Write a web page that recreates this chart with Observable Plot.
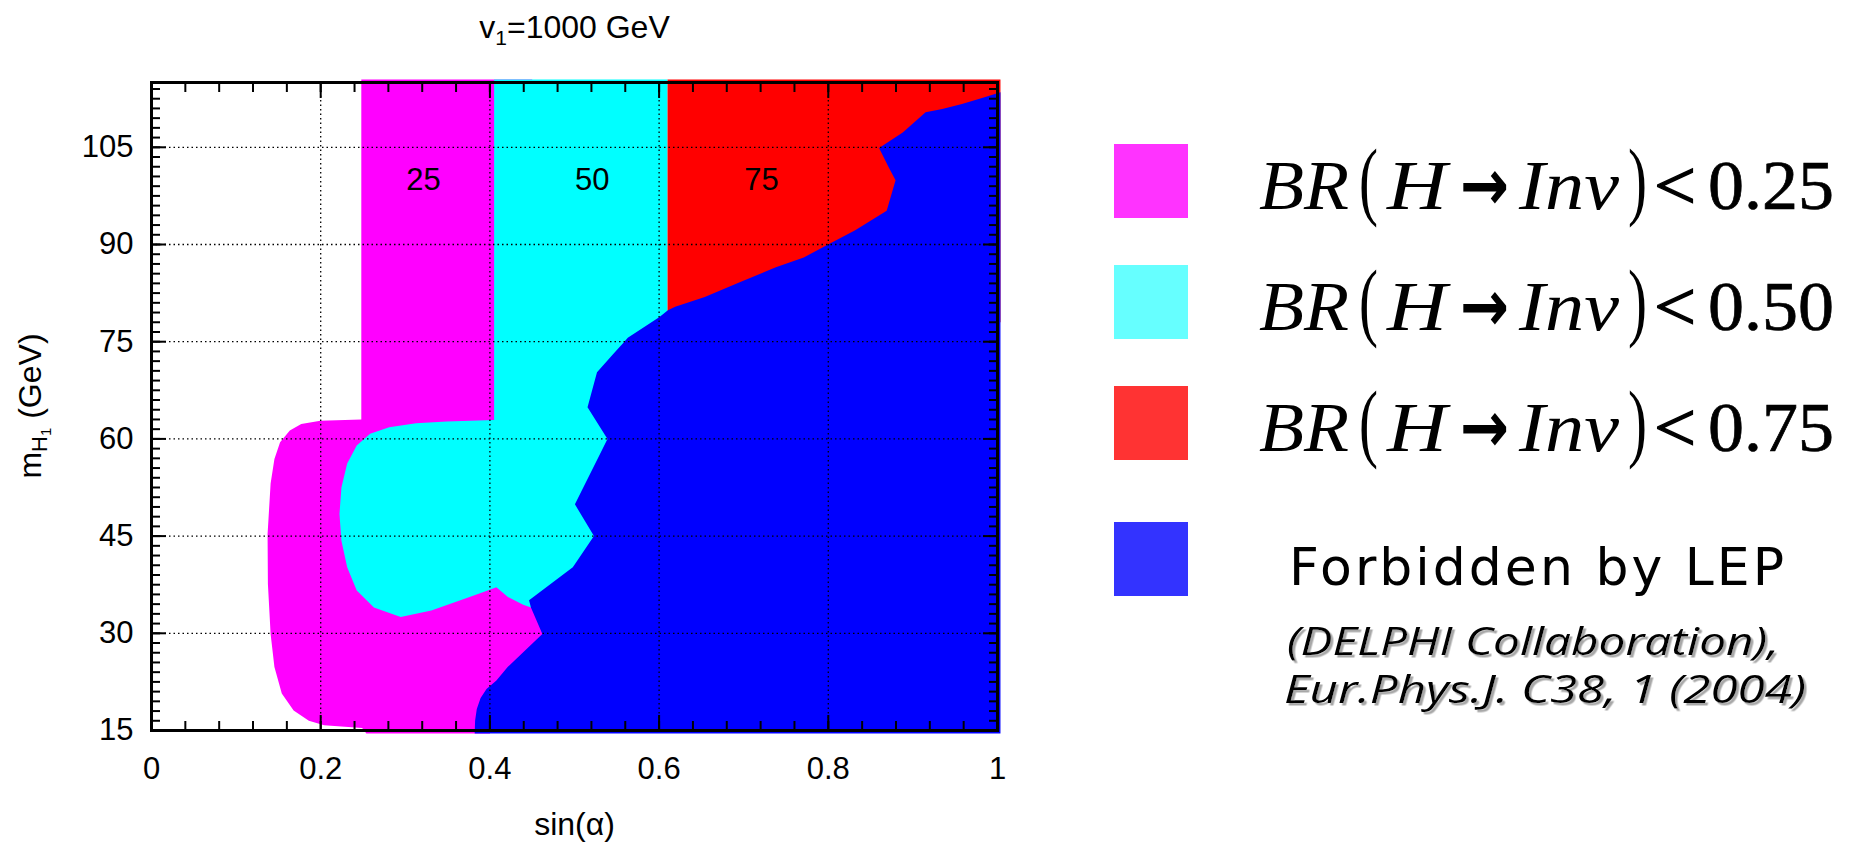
<!DOCTYPE html>
<html>
<head>
<meta charset="utf-8">
<script src="https://cdn.jsdelivr.net/npm/d3@7"></script>
<script src="https://cdn.jsdelivr.net/npm/@observablehq/plot@0.6"></script>
<style>
  html, body { margin: 0; padding: 0; background: #fff; }
  #wrap { position: relative; width: 1852px; height: 843px; overflow: hidden; background: #fff; }
  #chart { position: absolute; left: 0; top: 0; }
</style>
</head>
<body>
<div id="wrap"><div id="chart"></div></div>
<script>
// ---------------- data (sin(alpha), m_H1 in GeV) ----------------
const xDomain = [0, 1];
const yDomain = [15, 115];
const xTickValues = [0, 0.2, 0.4, 0.6, 0.8, 1];
const xTickLabels = ["0", "0.2", "0.4", "0.6", "0.8", "1"];
const yTickValues = [15, 30, 45, 60, 75, 90, 105];
const yTickLabels = ["15", "30", "45", "60", "75", "90", "105"];
const xGridValues = [0.2, 0.4, 0.6, 0.8];
const yGridValues = [30, 45, 60, 75, 90, 105];
const xMinorStep = 0.04;
const yMinorStep = 1.5;

// BR(H->Inv) < 0.25 region (magenta)
const magentaRegion = [
  [0.248, 115.45], [0.45, 115.45], [0.45, 40], [0.47, 30], [0.42, 20], [0.40, 14.55],
  [0.254, 14.55], [0.249, 15.4], [0.204, 15.8], [0.186, 16.5], [0.168, 18.1],
  [0.154, 20.7], [0.1453, 24.8], [0.1408, 29.9], [0.1376, 37.6], [0.1372, 45.3],
  [0.1408, 53.1], [0.1453, 56.9], [0.152, 59.5], [0.1635, 61.3], [0.177, 62.3],
  [0.1996, 62.8], [0.248, 63.0]
];
// BR(H->Inv) < 0.50 region (cyan)
const cyanRegion = [
  [0.405, 115.45], [0.61, 115.45], [0.61, 78], [0.70, 78], [0.70, 33], [0.47, 33],
  [0.4485, 34.0], [0.4394, 34.4], [0.4213, 35.6], [0.4077, 37.1], [0.395, 36.5],
  [0.376, 35.6], [0.3308, 33.5], [0.2946, 32.5], [0.2629, 34.0], [0.2426, 36.6],
  [0.2313, 40.2], [0.2245, 44.3], [0.2222, 48.4], [0.2245, 52.5], [0.2313, 56.2],
  [0.2426, 59.0], [0.2584, 60.8], [0.281, 61.8], [0.3127, 62.4], [0.349, 62.7],
  [0.405, 62.9]
];
// BR(H->Inv) < 0.75 region (red)
const redRegion = [
  [0.61, 115.45], [1.0035, 115.45], [1.0035, 78], [0.61, 78]
];
// Forbidden by LEP (blue)
const forbiddenRegion = [
  [0.382, 14.55], [0.3825, 16.5], [0.3845, 18.3], [0.389, 20.0], [0.396, 21.4],
  [0.4077, 22.7], [0.421, 24.8], [0.462, 29.9], [0.4485, 34.0], [0.4463, 35.1],
  [0.498, 40.2], [0.523, 45.0], [0.5005, 49.9], [0.539, 60.0], [0.5154, 64.9],
  [0.5266, 70.3], [0.545, 73.0], [0.5584, 74.9], [0.563, 75.6], [0.6005, 78.8],
  [0.610, 79.8], [0.619, 80.4], [0.654, 81.9], [0.696, 84.2], [0.738, 86.5],
  [0.771, 88.0], [0.8014, 90.1], [0.8318, 92.2], [0.869, 95.2], [0.8795, 99.9],
  [0.8715, 101.9], [0.860, 104.9], [0.888, 107.3], [0.915, 110.4], [0.9347, 110.9],
  [0.958, 111.7], [0.9837, 112.7], [1.0035, 113.5], [1.0035, 14.55]
];
const regionColors = ["#ff00ff", "#00ffff", "#ff0000", "#0000ff"];

// contour labels
const contourLabels = ["25", "50", "75"];
const contourLabelX = [0.3214, 0.521, 0.721];
const contourLabelY = [100, 100, 100];

// legend
const legendColors = ["#ff33ff", "#66ffff", "#ff3333", "#3333ff"];
const legendThresholds = ["0.25", "0.50", "0.75"];
const legendLEP = "Forbidden by LEP";
const legendRef = ["(DELPHI Collaboration),", "Eur.Phys.J. C38, 1 (2004)"];

const titleText = "v1=1000 GeV";
const xLabelText = "sin(α)";
const yLabelParts = ["m", "H", "1", " (GeV)"];

// ---------------- chart ----------------
const xMinor = d3.range(0, 1 + 1e-9, xMinorStep);
const yMinor = d3.range(15, 115 + 1e-9, yMinorStep);
const labelsTable = contourLabels.map((t, i) => ({t, x: contourLabelX[i], y: contourLabelY[i]}));
const regions = [magentaRegion, cyanRegion, redRegion, forbiddenRegion];
const sans = "'Liberation Sans', Arial, sans-serif";

const tickAxis = (Ax, data, anchor, size) =>
  Ax(data, {anchor, tickSize: -size, tickFormat: () => "", label: null, stroke: "black", strokeWidth: 2});

const plot = Plot.plot({
  width: 1060,
  height: 843,
  marginLeft: 151,
  marginRight: 63,
  marginTop: 82,
  marginBottom: 113,
  x: {domain: xDomain},
  y: {domain: yDomain},
  style: {fontFamily: sans, fontSize: "31px", color: "black", background: "transparent", overflow: "visible"},
  marks: [
    ...regions.map((r, i) => Plot.line(r, {x: d => d[0], y: d => d[1], fill: regionColors[i], stroke: "none", curve: "linear"})),
    Plot.gridX(xGridValues, {stroke: "black", strokeOpacity: 1, strokeWidth: 1.3, strokeDasharray: "1.5,3"}),
    Plot.gridY(yGridValues, {stroke: "black", strokeOpacity: 1, strokeWidth: 1.3, strokeDasharray: "1.5,3"}),
    tickAxis(Plot.axisX, xMinor, "bottom", 9),
    tickAxis(Plot.axisX, xMinor, "top", 9),
    tickAxis(Plot.axisX, xTickValues, "bottom", 15),
    tickAxis(Plot.axisX, xTickValues, "top", 15),
    tickAxis(Plot.axisY, yMinor, "left", 9),
    tickAxis(Plot.axisY, yMinor, "right", 9),
    tickAxis(Plot.axisY, yTickValues, "left", 15),
    tickAxis(Plot.axisY, yTickValues, "right", 15),
    Plot.axisX(xTickValues, {anchor: "bottom", tickSize: 0, tickPadding: 26, label: null, tickFormat: (d) => xTickLabels[xTickValues.indexOf(d)], fontSize: 31}),
    Plot.axisY(yTickValues, {anchor: "left", tickSize: 0, tickPadding: 18, label: null, tickFormat: (d) => yTickLabels[yTickValues.indexOf(d)], fontSize: 31}),
    Plot.frame({stroke: "black", strokeWidth: 3}),
    Plot.text(labelsTable, {x: "x", y: "y", text: "t", fontSize: 31, fill: "black"}),
    Plot.text([titleText], {text: d => d, frameAnchor: "top", dy: -45, lineAnchor: "bottom", fontSize: 32, fill: "black"}),
    Plot.text([xLabelText], {text: d => d, frameAnchor: "bottom", dy: 104, lineAnchor: "bottom", fontSize: 32, fill: "black"})
  ]
});
document.getElementById("chart").appendChild(plot);

// rich text (subscripts)
function setRich(node, base, parts) {
  const t = d3.select(node);
  t.text(null).attr("font-size", base).style("font-size", base + "px");
  let shift = 0;
  for (const p of parts) {
    const ts = t.append("tspan").text(p.t);
    const target = p.shift || 0;
    if (target !== shift) { ts.attr("dy", target - shift); shift = target; }
    ts.style("font-size", (p.size || base) + "px");
  }
}
d3.select(plot).selectAll("text").each(function () {
  if (this.textContent === titleText) setRich(this, 32, [{t: "v"}, {t: "1", shift: 7, size: 21}, {t: "=1000 GeV", shift: 0}]);
});
// y-axis label, rotated, centred on the frame's vertical middle
const yl = d3.select(plot).append("text")
  .attr("transform", "translate(41,406) rotate(-90)")
  .attr("text-anchor", "middle").attr("font-family", sans).attr("fill", "black");
setRich(yl.node(), 32, [
  {t: yLabelParts[0]}, {t: yLabelParts[1], shift: 6, size: 22}, {t: yLabelParts[2], shift: 10, size: 15}, {t: yLabelParts[3], shift: 0}
]);

// ---------------- legend ----------------
const lg = d3.create("svg")
  .attr("width", 1852).attr("height", 843)
  .style("position", "absolute").style("left", "0px").style("top", "0px");
const defs = lg.append("defs");
defs.append("filter").attr("id", "txtshadow").attr("x", "-5%").attr("y", "-20%").attr("width", "115%").attr("height", "150%")
  .append("feDropShadow").attr("dx", 2.5).attr("dy", 2.5).attr("stdDeviation", 0.6)
  .attr("flood-color", "#a8a8a8").attr("flood-opacity", 1);
const swatchTop = [144, 265, 386, 522];
legendColors.forEach((c, i) => lg.append("rect").attr("x", 1114).attr("y", swatchTop[i]).attr("width", 74).attr("height", 74).attr("fill", c));
const serif = "'Liberation Serif', 'Times New Roman', serif";
legendThresholds.forEach((v, i) => {
  const b = 209 + 121 * i;
  const g = lg.append("g").attr("fill", "black");
  const add = (txt, x, len, o = {}) => {
    const t = g.append("text").attr("x", x).attr("y", b + (o.dy || 0))
      .attr("font-family", o.family || serif).attr("font-size", o.size || 70)
      .attr("textLength", len).attr("lengthAdjust", "spacingAndGlyphs").text(txt);
    if (o.italic) t.attr("font-style", "italic");
    if (o.weight) t.attr("font-weight", o.weight);
    if (o.sw) t.attr("stroke", "black").attr("stroke-width", o.sw);
    return t;
  };
  add("BR", 1259, 90, {italic: true});
  add("(", 1359, 19, {size: 86});
  add("H", 1387, 60, {italic: true});
  add("→", 1460, 49, {family: "'DejaVu Sans', sans-serif", weight: "bold", size: 72, dy: 1});
  add("Inv", 1519, 100, {italic: true});
  add(")", 1628, 19, {size: 86});
  add("<", 1654, 42, {sw: 1.4});
  add(v, 1708, 126, {sw: 0.7});
});
lg.append("text").attr("x", 1289).attr("y", 585)
  .attr("font-family", "'DejaVu Sans', sans-serif").attr("font-size", 52)
  .attr("textLength", 495).attr("lengthAdjust", "spacing").attr("fill", "black").text(legendLEP);
const refX = [1287, 1284], refY = [655, 703], refLen = [492, 522];
legendRef.forEach((t, i) => {
  lg.append("text").attr("x", refX[i]).attr("y", refY[i])
    .attr("font-family", "'Open Sans', 'DejaVu Sans', sans-serif").attr("font-style", "italic").attr("font-size", 39)
    .attr("textLength", refLen[i]).attr("lengthAdjust", "spacingAndGlyphs").attr("fill", "black")
    .attr("filter", "url(#txtshadow)").text(t);
});
document.getElementById("wrap").appendChild(lg.node());
</script>
</body>
</html>
